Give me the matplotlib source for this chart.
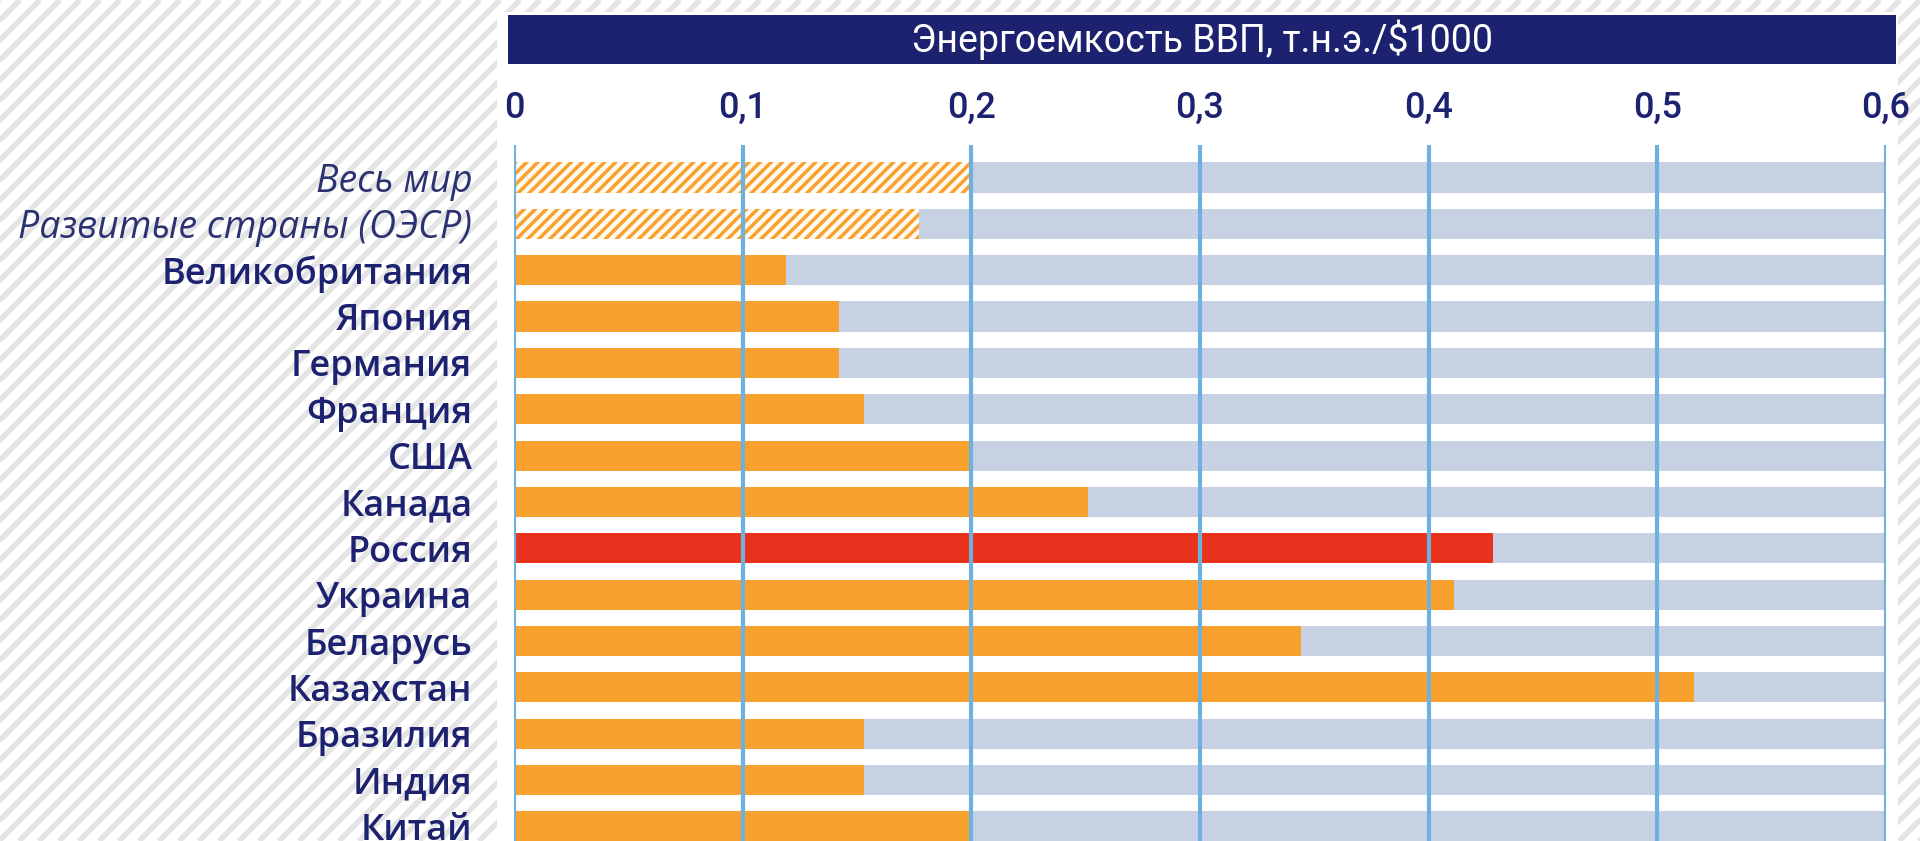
import matplotlib
matplotlib.use("Agg")
import matplotlib.pyplot as plt
from matplotlib.patches import Rectangle

# --- data ---
countries = ["Весь мир", "Развитые страны (ОЭСР)", "Великобритания", "Япония",
             "Германия", "Франция", "США", "Канада", "Россия", "Украина",
             "Беларусь", "Казахстан", "Бразилия", "Индия", "Китай"]
intensity = [0.199, 0.177, 0.119, 0.142, 0.142, 0.153, 0.199, 0.251, 0.428,
             0.411, 0.344, 0.516, 0.153, 0.153, 0.199]
aggregate_rows = ["Весь мир", "Развитые страны (ОЭСР)"]
highlight = "Россия"
x_ticks = [0, 0.1, 0.2, 0.3, 0.4, 0.5, 0.6]
x_max = 0.6
title = "Энергоемкость ВВП, т.н.э./$1000"

NAVY = "#1c2170"
ORANGE = "#f9a12e"
RED = "#e8321e"
GREY = "#c6d1e4"
GRID = "#6fb1de"

plt.rcParams["hatch.linewidth"] = 2.5

W, H = 1920, 841
fig = plt.figure(figsize=(W / 100, H / 100), dpi=100)
fig.patch.set_facecolor("white")

# background with diagonal stripes (pixel coordinates)
bg = fig.add_axes([0, 0, 1, 1], zorder=0)
bg.set_xlim(0, W)
bg.set_ylim(H, 0)
bg.axis("off")
for c in range(-H, W + 20, 20):
    bg.plot([c, c + H], [H, 0], color="#e4e4e4", lw=4, solid_capstyle="butt", zorder=1)
bg.add_patch(Rectangle((497, 12), 1898 - 497, H - 12, facecolor="white",
                       edgecolor="none", zorder=5))
bg.add_patch(Rectangle((508, 15), 1896 - 508, 49, facecolor=NAVY,
                       edgecolor="none", zorder=6))
bg.text((508 + 1896) / 2, 40, title, color="white", ha="center", va="center",
        fontsize=27, family="Roboto", zorder=7)

# main chart
left_px, right_px, top_px = 514, 1886, 145
row_step = 46.36
y_top = -0.7
y_bottom = y_top + (H - top_px) / row_step
ax = fig.add_axes([left_px / W, 0, (right_px - left_px) / W, (H - top_px) / H], zorder=1)
ax.patch.set_alpha(0)

ypos = list(range(len(countries)))
ax.barh(ypos, [x_max] * len(countries), height=0.65, color=GREY, zorder=1)
for y, name, val in zip(ypos, countries, intensity):
    if name in aggregate_rows:
        ax.barh(y, val, height=0.65, facecolor="#fffaf0", edgecolor=ORANGE,
                hatch="///", linewidth=0, zorder=2)
    else:
        ax.barh(y, val, height=0.65, color=RED if name == highlight else ORANGE, zorder=2)

for t in x_ticks:
    ax.axvline(t, color=GRID, lw=3, zorder=3)

ax.set_xlim(0, x_max)
ax.set_ylim(y_bottom, y_top)
ax.xaxis.tick_top()
ax.set_xticks(x_ticks)
ax.set_xticklabels([f"{t:g}".replace(".", ",") for t in x_ticks],
                   fontsize=26, color=NAVY, family="Roboto", fontweight="medium")
ax.tick_params(axis="x", length=0, pad=14)
ax.set_yticks(ypos)
ax.set_yticklabels(countries, fontsize=26, color=NAVY, family="Open Sans")
ax.tick_params(axis="y", length=0, pad=30)
for lbl in ax.get_yticklabels():
    if lbl.get_text() in aggregate_rows:
        lbl.set_style("italic")
        lbl.set_color("#2b3272")
        lbl.set_fontsize(27)
    else:
        lbl.set_fontweight("semibold")
for s in ax.spines.values():
    s.set_visible(False)

fig.savefig("out.png", dpi=100)
